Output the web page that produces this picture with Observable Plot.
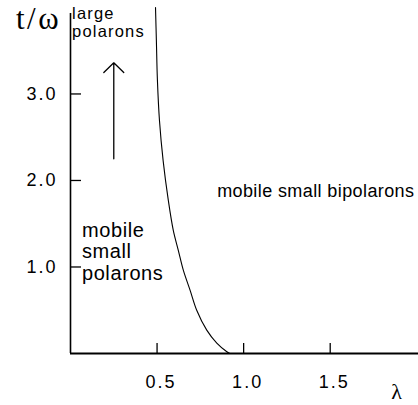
<!DOCTYPE html>
<html>
<head>
<meta charset="utf-8">
<script src="https://cdn.jsdelivr.net/npm/d3@7"></script>
<script src="https://cdn.jsdelivr.net/npm/@observablehq/plot@0.6"></script>
<style>
  html, body { margin: 0; padding: 0; background: #fff; }
  #chart svg { display: block; }
  #chart [aria-label="x-axis tick label"], #chart [aria-label="y-axis tick label"] { font-size: 18px; letter-spacing: 2px; }
  #chart text[aria-label="bipolarons"] { letter-spacing: 0.4px; }
  #chart text[aria-label="small polarons"] { letter-spacing: 0.6px; }
  #chart text[aria-label="large polarons"] { letter-spacing: 1.2px; }
  #chart text[aria-label="y label"] { letter-spacing: 2.5px; }
</style>
</head>
<body>
<div id="chart"></div>
<script>
// Phase boundary curve t/omega vs lambda
const lambda = [0.491, 0.496, 0.502, 0.514, 0.535, 0.565, 0.594, 0.623, 0.652, 0.691, 0.729, 0.787, 0.845, 0.903, 0.92];
const tOmega = [4.00, 3.62, 3.16, 2.69, 2.23, 1.77, 1.42, 1.19, 0.96, 0.73, 0.50, 0.27, 0.12, 0.02, 0.0];
const xTicks = [0.5, 1.0, 1.5];
const yTicks = [1.0, 2.0, 3.0];

const curve = lambda.map((l, i) => ({l, t: tOmega[i]}));

const sans = "'Liberation Sans', Arial, Helvetica, sans-serif";
const serif = "'Liberation Serif', 'Times New Roman', serif";

const chart = Plot.plot({
  width: 418,
  height: 405,
  marginLeft: 70,
  marginRight: 0,
  marginTop: 13,
  marginBottom: 52,
  style: {fontFamily: sans, background: "#fff", color: "#000", overflow: "visible"},
  x: {domain: [0, 2.01]},
  y: {domain: [0, 3.93]},
  marks: [
    Plot.ruleY([0], {stroke: "#000", strokeWidth: 1.8}),
    Plot.ruleX([0], {stroke: "#000", strokeWidth: 1.6}),
    Plot.axisX(xTicks, {anchor: "bottom", tickSize: -10, strokeWidth: 1.3, fill: "none", label: null}),
    Plot.axisX(xTicks, {anchor: "bottom", tickSize: 0, tickPadding: 22, tickFormat: d3.format(".1f"), dx: 4, fill: "#000", label: null}),
    Plot.axisY(yTicks, {anchor: "left", tickSize: -11, strokeWidth: 1.3, fill: "none", label: null}),
    Plot.axisY(yTicks, {anchor: "left", tickSize: 0, tickPadding: 13, tickFormat: d3.format(".1f"), fill: "#000", label: null}),
    Plot.line(curve, {x: "l", y: "t", curve: "catmull-rom", stroke: "#000", strokeWidth: 1.1}),
    Plot.arrow([{x: 0.25, y1: 2.25, y2: 3.36}], {x: "x", y1: "y1", y2: "y2", stroke: "#000", strokeWidth: 1.3, headAngle: 92, headLength: 16}),
    Plot.text(["mobile small bipolarons"], {x: 0.847, y: 1.88, text: d => d, textAnchor: "start", fontSize: 18, fill: "#000", ariaLabel: () => "bipolarons"}),
    Plot.text(["mobile\nsmall\npolarons"], {x: 0.066, y: 1.18, text: d => d, textAnchor: "start", fontSize: 20, lineHeight: 1.075, fill: "#000", ariaLabel: () => "small polarons"}),
    Plot.text(["large\npolarons"], {x: 0.009, y: 3.83, text: d => d, textAnchor: "start", fontSize: 16.5, lineHeight: 1.12, fill: "#000", ariaLabel: () => "large polarons"}),
    Plot.text(["t/\u03c9"], {x: -0.315, y: 3.87, text: d => d, textAnchor: "start", fontSize: 31, fontFamily: serif, fill: "#000", ariaLabel: () => "y label"}),
    Plot.text(["\u03bb"], {x: 1.884, y: -0.45, text: d => d, textAnchor: "middle", fontSize: 22, fontFamily: serif, fill: "#000", ariaLabel: () => "x label"})
  ]
});
document.getElementById("chart").appendChild(chart);
</script>
</body>
</html>
